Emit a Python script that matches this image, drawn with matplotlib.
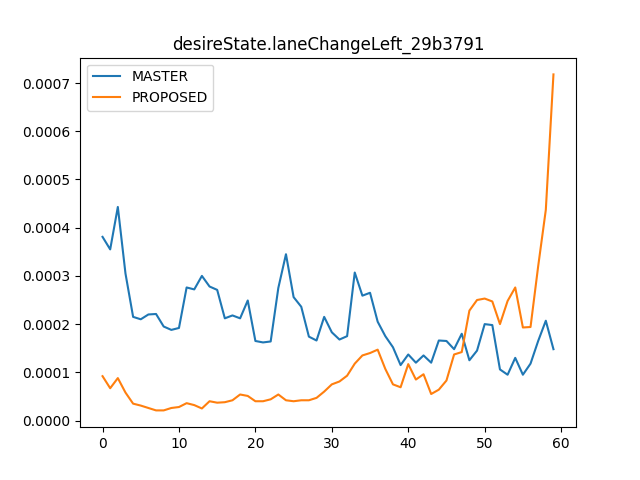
import matplotlib
matplotlib.use("Agg")
import matplotlib.pyplot as plt

title = "desireState.laneChangeLeft_29b3791"

master = [
    0.000381, 0.000355, 0.000443, 0.000305, 0.000215, 0.000210, 0.000220, 0.000221,
    0.000195, 0.000188, 0.000192, 0.000276, 0.000272, 0.000300, 0.000278, 0.000271,
    0.000212, 0.000218, 0.000212, 0.000249, 0.000165, 0.000162, 0.000164, 0.000275,
    0.000345, 0.000256, 0.000236, 0.000174, 0.000166, 0.000215, 0.000183, 0.000168,
    0.000175, 0.000307, 0.000259, 0.000265, 0.000205, 0.000175, 0.000152, 0.000115,
    0.000137, 0.000120, 0.000135, 0.000120, 0.000166, 0.000165, 0.000148, 0.000180,
    0.000125, 0.000145, 0.000200, 0.000198, 0.000106, 0.000095, 0.000130, 0.000095,
    0.000118, 0.000165, 0.000207, 0.000148,
]

proposed = [
    0.000092, 0.000067, 0.000088, 0.000058, 0.000035, 0.000031, 0.000026, 0.000021,
    0.000021, 0.000026, 0.000028, 0.000036, 0.000032, 0.000025, 0.000040, 0.000037,
    0.000038, 0.000042, 0.000054, 0.000051, 0.000040, 0.000040, 0.000044, 0.000054,
    0.000042, 0.000040, 0.000042, 0.000042, 0.000047, 0.000060, 0.000075, 0.000081,
    0.000093, 0.000118, 0.000135, 0.000140, 0.000147, 0.000107, 0.000075, 0.000069,
    0.000117, 0.000085, 0.000096, 0.000055, 0.000064, 0.000083, 0.000137, 0.000142,
    0.000228, 0.000250, 0.000253, 0.000247, 0.000200, 0.000248, 0.000276, 0.000193,
    0.000194, 0.000320, 0.000437, 0.000718,
]

fig, ax = plt.subplots(figsize=(6.4, 4.8), dpi=100)
ax.plot(master, label="MASTER")
ax.plot(proposed, label="PROPOSED")
ax.set_title(title)
ax.legend(loc="upper left")

fig.savefig("out.png")
